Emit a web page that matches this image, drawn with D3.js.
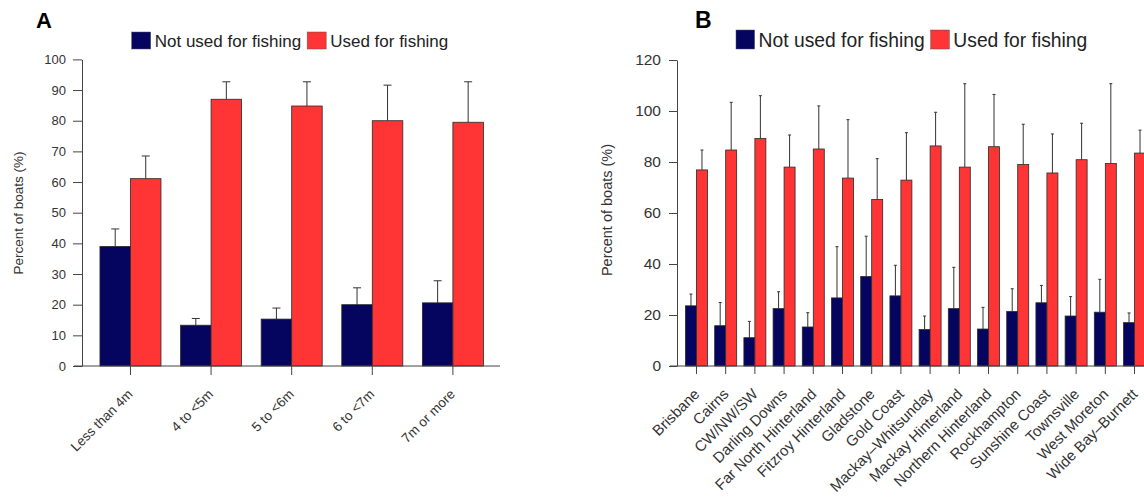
<!DOCTYPE html>
<html>
<head>
<meta charset="utf-8">
<script src="https://cdn.jsdelivr.net/npm/d3@7"></script>
<style>
  body { margin: 0; background: #fff; }
  svg { display: block; font-family: "Liberation Sans", Arial, sans-serif; }
</style>
</head>
<body>
<svg id="chart" width="1144" height="497"></svg>
<script>
const seriesNames = ["Not used for fishing", "Used for fishing"];
const seriesColors = ["#05055f", "#ff3434"];

// Panel A: boat length
const sizeCategories = ["Less than 4m", "4 to <5m", "5 to <6m", "6 to <7m", "7m or more"];
const sizeNotUsed = [39.0, 13.3, 15.3, 20.0, 20.6];
const sizeNotUsedUpper = [44.7, 15.5, 18.9, 25.5, 27.8];
const sizeUsed = [61.1, 87.0, 84.8, 80.0, 79.5];
const sizeUsedUpper = [68.5, 92.7, 92.7, 91.6, 92.7];
const sizeTicks = [0, 10, 20, 30, 40, 50, 60, 70, 80, 90, 100];

// Panel B: region
const regionCategories = [
  "Brisbane", "Cairns", "CW/NW/SW", "Darling Downs", "Far North Hinterland",
  "Fitzroy Hinterland", "Gladstone", "Gold Coast", "Mackay–Whitsunday",
  "Mackay Hinterland", "Northern Hinterland", "Rockhampton", "Sunshine Coast",
  "Townsville", "West Moreton", "Wide Bay–Burnett"
];
const regionNotUsed = [23.6, 15.8, 11.1, 22.5, 15.3, 26.7, 35.1, 27.5, 14.3, 22.5, 14.5, 21.4, 24.8, 19.6, 21.1, 17.0];
const regionNotUsedUpper = [28.2, 24.9, 17.5, 29.1, 20.9, 46.8, 50.9, 39.5, 19.6, 38.7, 23.0, 30.3, 31.6, 27.2, 34.0, 20.8];
const regionUsed = [76.9, 84.7, 89.2, 78.0, 85.1, 73.7, 65.3, 72.9, 86.3, 78.0, 86.0, 79.0, 75.7, 80.9, 79.4, 83.5];
const regionUsedUpper = [84.7, 103.4, 106.0, 90.6, 102.0, 96.6, 81.3, 91.5, 99.5, 110.7, 106.5, 94.8, 91.0, 95.2, 110.7, 92.5];
const regionTicks = [0, 20, 40, 60, 80, 100, 120];

const svg = d3.select("#chart");

function toRows(categories, notUsed, notUsedUpper, used, usedUpper) {
  return categories.map((c, i) => ({
    category: c,
    values: [
      { key: seriesNames[0], value: notUsed[i], upper: notUsedUpper[i] },
      { key: seriesNames[1], value: used[i], upper: usedUpper[i] },
    ],
  }));
}

function drawPanel(cfg) {
  const g = svg.append("g");
  const rows = cfg.rows;

  const x = d3.scaleBand()
    .domain(rows.map((d) => d.category))
    .range(cfg.xRange)
    .paddingInner(cfg.paddingInner)
    .paddingOuter(cfg.paddingOuter)
    .align(cfg.align);
  const xSub = d3.scaleBand().domain(seriesNames).range([0, x.bandwidth()]);
  const y = d3.scaleLinear().domain(cfg.yDomain).range(cfg.yRange);
  const color = d3.scaleOrdinal().domain(seriesNames).range(seriesColors);

  // error bars (drawn first so bars sit on top of the stem)
  const groups = g.selectAll(".grp")
    .data(rows)
    .join("g")
    .attr("transform", (d) => `translate(${x(d.category)},0)`);

  groups.selectAll(".err")
    .data((d) => d.values)
    .join("path")
    .attr("fill", "none")
    .attr("stroke", "#333")
    .attr("stroke-width", 1)
    .attr("d", (d) => {
      const cx = xSub(d.key) + xSub.bandwidth() / 2;
      return `M${cx},${y(d.value)}V${y(d.upper)}M${cx - cfg.cap},${y(d.upper)}H${cx + cfg.cap}`;
    });

  groups.selectAll(".bar")
    .data((d) => d.values)
    .join("rect")
    .attr("x", (d) => xSub(d.key))
    .attr("y", (d) => y(d.value))
    .attr("width", xSub.bandwidth())
    .attr("height", (d) => y(0) - y(d.value))
    .attr("fill", (d) => color(d.key))
    .attr("stroke", "#2a2a2a")
    .attr("stroke-width", 0.8);

  // y axis
  const yAxis = g.append("g")
    .attr("transform", `translate(${cfg.yAxisX},0)`)
    .call(d3.axisLeft(y).tickValues(cfg.ticks).tickSize(cfg.tickLen).tickSizeOuter(0).tickPadding(cfg.yTickPad));
  yAxis.selectAll("text").attr("font-size", cfg.tickFont).attr("fill", "#333").attr("font-family", null);

  // x axis
  const xAxis = g.append("g")
    .attr("transform", `translate(0,${y(0)})`)
    .call(d3.axisBottom(x).tickSize(cfg.tickLen).tickSizeOuter(0).tickFormat(""));
  xAxis.select(".domain").attr("d", `M${cfg.xLine[0]},0H${cfg.xLine[1]}`);

  g.selectAll(".xl")
    .data(rows)
    .join("text")
    .attr("transform", (d) => `translate(${x(d.category) + x.bandwidth() / 2 + cfg.labelDx},${y(0) + cfg.labelDy}) rotate(-45)`)
    .attr("text-anchor", "end")
    .attr("font-size", cfg.xFont)
    .attr("fill", "#333")
    .text((d) => d.category);

  [yAxis, xAxis].forEach((a) => {
    a.selectAll("line").attr("stroke", "#444");
    a.select(".domain").attr("stroke", "#444");
  });

  // y label
  g.append("text")
    .attr("transform", `translate(${cfg.yLabelPos[0]},${cfg.yLabelPos[1]}) rotate(-90)`)
    .attr("text-anchor", "middle")
    .attr("dy", "0.35em")
    .attr("font-size", cfg.yLabelFont)
    .attr("fill", "#333")
    .text("Percent of boats (%)");

  // panel letter
  g.append("text")
    .attr("x", cfg.letterPos[0])
    .attr("y", cfg.letterPos[1])
    .attr("font-size", cfg.letterFont)
    .attr("font-weight", "bold")
    .text(cfg.letter);

  // legend
  const leg = g.append("g").attr("transform", `translate(${cfg.legendPos[0]},${cfg.legendPos[1]})`);
  let lx = 0;
  seriesNames.forEach((name) => {
    leg.append("rect")
      .attr("x", lx)
      .attr("y", -cfg.legendBox[1] + 2)
      .attr("width", cfg.legendBox[0])
      .attr("height", cfg.legendBox[1])
      .attr("fill", color(name))
      .attr("stroke", "#555")
      .attr("stroke-width", 0.5);
    const t = leg.append("text")
      .attr("x", lx + cfg.legendBox[0] + 4)
      .attr("font-size", cfg.legendFont)
      .attr("fill", "#222")
      .text(name);
    lx += cfg.legendBox[0] + 4 + t.node().getComputedTextLength() + 6;
  });
}

drawPanel({
  rows: toRows(sizeCategories, sizeNotUsed, sizeNotUsedUpper, sizeUsed, sizeUsedUpper),
  xRange: [74, 500], paddingInner: 0.243, paddingOuter: 0.264, align: 0.61,
  xLine: [74, 500],
  yDomain: [0, 100], yRange: [366, 59.4], ticks: sizeTicks,
  yAxisX: 82, tickLen: 9, yTickPad: 7, tickFont: 13,
  cap: 4, xFont: 13.5, labelDx: 3, labelDy: 29,
  yLabelPos: [18, 213], yLabelFont: 13.5,
  letter: "A", letterPos: [36, 28], letterFont: 22,
  legendPos: [131.7, 47], legendBox: [19, 17], legendFont: 17,
});

drawPanel({
  rows: toRows(regionCategories, regionNotUsed, regionNotUsedUpper, regionUsed, regionUsedUpper),
  xRange: [670, 1161], paddingInner: 0.247, paddingOuter: 0.53, align: 0.5,
  xLine: [670, 1161],
  yDomain: [0, 120], yRange: [366, 60], ticks: regionTicks,
  yAxisX: 677, tickLen: 8, yTickPad: 8, tickFont: 15.5,
  cap: 1.5, xFont: 15, labelDx: 4, labelDy: 29,
  yLabelPos: [607, 210], yLabelFont: 14.5,
  letter: "B", letterPos: [695, 28], letterFont: 23,
  legendPos: [736, 47], legendBox: [18.6, 19], legendFont: 19.3,
});
</script>
</body>
</html>
